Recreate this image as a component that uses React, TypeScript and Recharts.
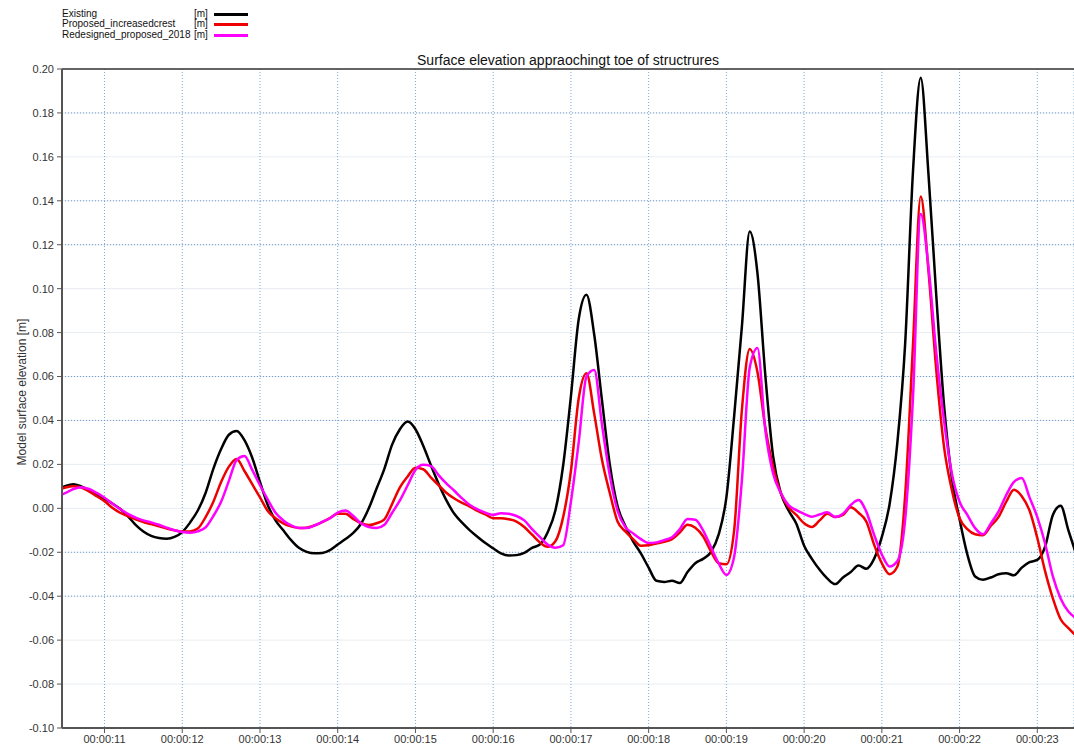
import { CartesianGrid, Line, LineChart, ReferenceLine, XAxis, YAxis } from 'recharts'

const FONT = '"Liberation Sans", Arial, sans-serif'

// sample times in seconds, 0.1 s apart
const time = [
  10.4, 10.5, 10.6, 10.7, 10.8, 10.9,
  11.0, 11.1, 11.2, 11.3, 11.4, 11.5, 11.6, 11.7, 11.8, 11.9,
  12.0, 12.1, 12.2, 12.3, 12.4, 12.5, 12.6, 12.7, 12.8, 12.9,
  13.0, 13.1, 13.2, 13.3, 13.4, 13.5, 13.6, 13.7, 13.8, 13.9,
  14.0, 14.1, 14.2, 14.3, 14.4, 14.5, 14.6, 14.7, 14.8, 14.9,
  15.0, 15.1, 15.2, 15.3, 15.4, 15.5, 15.6, 15.7, 15.8, 15.9,
  16.0, 16.1, 16.2, 16.3, 16.4, 16.5, 16.6, 16.7, 16.8, 16.9,
  17.0, 17.1, 17.2, 17.3, 17.4, 17.5, 17.6, 17.7, 17.8, 17.9,
  18.0, 18.1, 18.2, 18.3, 18.4, 18.5, 18.6, 18.7, 18.8, 18.9,
  19.0, 19.1, 19.2, 19.3, 19.4, 19.5, 19.6, 19.7, 19.8, 19.9,
  20.0, 20.1, 20.2, 20.3, 20.4, 20.5, 20.6, 20.7, 20.8, 20.9,
  21.0, 21.1, 21.2, 21.3, 21.4, 21.5, 21.6, 21.7, 21.8, 21.9,
  22.0, 22.1, 22.2, 22.3, 22.4, 22.5, 22.6, 22.7, 22.8, 22.9,
  23.0, 23.1, 23.2, 23.3, 23.4, 23.5,
]

const existing = [
  0.0085, 0.0102, 0.011, 0.01, 0.0083, 0.0064,
  0.0044, 0.0022, -0.0002, -0.0035, -0.0075, -0.0105, -0.0125, -0.0135, -0.0138, -0.013,
  -0.0108, -0.0065, -0.001, 0.007, 0.018, 0.027, 0.0335, 0.0352, 0.031, 0.023,
  0.012, 0.0015, -0.0055, -0.01, -0.0145, -0.018, -0.0198, -0.0205, -0.0203, -0.019,
  -0.0165, -0.014, -0.0112, -0.007, 0.0, 0.009, 0.018, 0.029, 0.036, 0.0395,
  0.036, 0.0285, 0.0195, 0.011, 0.0035, -0.0025, -0.0065, -0.01, -0.013, -0.0158,
  -0.0182, -0.0205, -0.0215, -0.0213, -0.0203, -0.018, -0.0165, -0.011, -0.001, 0.0195,
  0.051, 0.086, 0.0972, 0.079, 0.049, 0.02, 0.001, -0.008, -0.015, -0.0205,
  -0.027, -0.033, -0.0335, -0.033, -0.034, -0.029, -0.025, -0.023, -0.02, -0.012,
  0.005, 0.042, 0.083, 0.126, 0.107, 0.061, 0.024, 0.007, -0.001, -0.007,
  -0.017, -0.023, -0.028, -0.032, -0.0345, -0.0315, -0.029, -0.026, -0.0275, -0.023,
  -0.013, 0.002, 0.03, 0.075, 0.153, 0.196, 0.152, 0.097, 0.047, 0.014,
  -0.005, -0.021, -0.031, -0.0325, -0.0315, -0.03, -0.0295, -0.0305, -0.027, -0.0245,
  -0.0235, -0.0175, -0.003, 0.0012, -0.01, -0.021,
]

const proposedIncreasedCrest = [
  0.0085, 0.0095, 0.01, 0.0095, 0.0077, 0.0055,
  0.0032, 0.0003, -0.002, -0.0035, -0.005, -0.0062, -0.0072, -0.0082, -0.0092, -0.01,
  -0.0106, -0.0105, -0.0092, -0.004, 0.003, 0.012, 0.019, 0.0225, 0.017, 0.011,
  0.005, -0.0012, -0.0045, -0.0068, -0.0082, -0.009, -0.0088, -0.0078, -0.0063, -0.0045,
  -0.0025, -0.0025, -0.0048, -0.0068, -0.0076, -0.0068, -0.005, 0.002, 0.0095, 0.0145,
  0.0185, 0.0178, 0.014, 0.0105, 0.007, 0.0045, 0.0025, 0.0008, -0.0012, -0.0028,
  -0.0045, -0.0045, -0.005, -0.006, -0.0085, -0.012, -0.0155, -0.0175, -0.015, -0.004,
  0.017, 0.05, 0.0615, 0.043, 0.022, 0.007, -0.006, -0.0105, -0.014, -0.017,
  -0.0168, -0.016, -0.0152, -0.014, -0.011, -0.0075, -0.0088, -0.0127, -0.0195, -0.025,
  -0.0255, -0.01, 0.045, 0.0725, 0.062, 0.037, 0.019, 0.007, 0.0005, -0.003,
  -0.0068, -0.0085, -0.0055, -0.0025, -0.004, -0.003, 0.0005, -0.002, -0.006, -0.0165,
  -0.025, -0.03, -0.0265, 0.006, 0.074, 0.142, 0.108, 0.063, 0.028, 0.0085,
  -0.0045, -0.0095, -0.0118, -0.0122, -0.008, -0.004, 0.003, 0.0085, 0.0055, -0.001,
  -0.0135, -0.0286, -0.041, -0.0505, -0.0545, -0.058,
]

const redesignedProposed2018 = [
  0.0055, 0.007, 0.0088, 0.0096, 0.0088, 0.007,
  0.0048, 0.0022, -0.0003, -0.0025, -0.0042, -0.0055, -0.0064, -0.0075, -0.0088, -0.01,
  -0.0108, -0.0111, -0.0105, -0.0087, -0.0035, 0.003, 0.0125, 0.022, 0.0238, 0.0175,
  0.0105, 0.004, -0.002, -0.0055, -0.0078, -0.0089, -0.009, -0.0078, -0.0062, -0.0045,
  -0.002, -0.001, -0.0035, -0.0068, -0.0085, -0.009, -0.0075, -0.002, 0.0036, 0.0105,
  0.0175, 0.0198, 0.0192, 0.015, 0.0112, 0.008, 0.0045, 0.0015, -0.0005, -0.002,
  -0.003, -0.0022, -0.0025, -0.0035, -0.0055, -0.0095, -0.013, -0.0165, -0.018, -0.0168,
  0.003, 0.03, 0.06, 0.063, 0.038, 0.015, -0.001, -0.0085, -0.0114, -0.014,
  -0.0158, -0.0155, -0.0145, -0.0132, -0.0095, -0.0048, -0.0052, -0.01, -0.0175, -0.025,
  -0.0303, -0.022, 0.013, 0.064, 0.073, 0.036, 0.016, 0.007, 0.0015, -0.0008,
  -0.0025, -0.0038, -0.0028, -0.0018, -0.004, -0.0025, 0.0015, 0.0038, -0.0015, -0.012,
  -0.021, -0.0265, -0.024, -0.005, 0.05, 0.134, 0.11, 0.071, 0.04, 0.016,
  0.003, -0.003, -0.009, -0.0118, -0.007, -0.0015, 0.006, 0.012, 0.0138, 0.005,
  -0.004, -0.016, -0.031, -0.041, -0.047, -0.05,
]

const series = [
  { key: 'existing', name: 'Existing', color: '#000000' },
  { key: 'proposed', name: 'Proposed_increasedcrest', color: '#ee0000' },
  { key: 'redesigned', name: 'Redesigned_proposed_2018', color: '#ff00ff' },
]

const xTicks = [11, 12, 13, 14, 15, 16, 17, 18, 19, 20, 21, 22, 23]
const yTicks = [-0.1, -0.08, -0.06, -0.04, -0.02, 0, 0.02, 0.04, 0.06, 0.08, 0.1, 0.12, 0.14, 0.16, 0.18, 0.2]
const dottedRows = [0.18, 0.14, 0.12, 0.06, 0.04, -0.02, -0.04]

const X_DOMAIN: [number, number] = [10.453, 23.472]
const Y_DOMAIN: [number, number] = [-0.1, 0.2]

// minor ticks: 0.1 s along time, 0.004 m along elevation
const xMinor = Array.from({ length: 130 }, (_, i) => Math.round((10.5 + i * 0.1) * 10) / 10)
const yMinor = Array.from({ length: 76 }, (_, i) => Math.round((-0.1 + i * 0.004) * 1000) / 1000)

const data = time.map((t, i) => ({
  t,
  existing: existing[i],
  proposed: proposedIncreasedCrest[i],
  redesigned: redesignedProposed2018[i],
}))

const formatTime = (s: number) => `00:00:${String(s).padStart(2, '0')}`
const tickStyle = { fontSize: 11, fill: '#333', fontFamily: FONT }
const axisStroke = { stroke: '#555', strokeWidth: 2 }

export default function App() {
  return (
    <div
      style={{
        position: 'absolute',
        left: 0,
        top: 0,
        width: 1074,
        height: 747,
        overflow: 'hidden',
        background: '#fff',
        fontFamily: FONT,
      }}
    >
      <LineChart width={1074} height={747} data={data} margin={{ top: 69, right: 0, bottom: 0, left: 0 }}>
        <CartesianGrid vertical={false} stroke="#e8edf2" />
        <CartesianGrid horizontal={false} stroke="#7eaad4" strokeDasharray="1 2" />
        {dottedRows.map((v) => (
          <ReferenceLine key={v} y={v} stroke="#6e9ccb" strokeDasharray="1 2" />
        ))}
        <XAxis
          xAxisId="minor"
          type="number"
          dataKey="t"
          domain={X_DOMAIN}
          allowDataOverflow
          ticks={xMinor}
          interval={0}
          tick={false}
          tickSize={3}
          tickLine={{ stroke: '#555' }}
          axisLine={false}
          height={0}
        />
        <XAxis
          type="number"
          dataKey="t"
          domain={X_DOMAIN}
          allowDataOverflow
          ticks={xTicks}
          interval={0}
          tickFormatter={formatTime}
          tick={tickStyle}
          tickSize={5}
          tickMargin={2}
          tickLine={{ stroke: '#555' }}
          axisLine={axisStroke}
          height={19}
        />
        <YAxis
          yAxisId="minor"
          type="number"
          domain={Y_DOMAIN}
          ticks={yMinor}
          interval={0}
          tick={false}
          tickSize={3}
          tickLine={{ stroke: '#555' }}
          axisLine={false}
          width={0}
        />
        <YAxis
          type="number"
          domain={Y_DOMAIN}
          ticks={yTicks}
          interval={0}
          tickFormatter={(v: number) => v.toFixed(2)}
          tick={tickStyle}
          tickSize={5}
          tickMargin={3}
          tickLine={{ stroke: '#555' }}
          axisLine={axisStroke}
          width={62}
        />
        <ReferenceLine y={0.2} stroke="#333" strokeWidth={1.5} />
        {series.map((s) => (
          <Line
            key={s.key}
            type="monotone"
            dataKey={s.key}
            name={s.name}
            stroke={s.color}
            strokeWidth={2.5}
            dot={false}
            activeDot={false}
            isAnimationActive={false}
          />
        ))}
      </LineChart>

      {/* y axis title, rotated */}
      <div
        style={{
          position: 'absolute',
          left: 22 - 100,
          top: 392 - 7,
          width: 200,
          height: 14,
          lineHeight: '14px',
          textAlign: 'center',
          fontSize: 12,
          color: '#333',
          transform: 'rotate(-90deg)',
        }}
      >
        Model surface elevation [m]
      </div>

      <div
        style={{
          position: 'absolute',
          left: 62,
          width: 1012,
          top: 52,
          textAlign: 'center',
          fontSize: 14,
          lineHeight: '16px',
          color: '#111',
        }}
      >
        Surface elevation appraochingt toe of structrures
      </div>

      {series.map((s, i) => (
        <div
          key={s.key}
          style={{
            position: 'absolute',
            left: 0,
            top: 9 + i * 10.3,
            height: 10.3,
            width: 260,
            fontSize: 10,
            lineHeight: '10.3px',
            color: '#111',
          }}
        >
          <span style={{ position: 'absolute', left: 62 }}>{s.name}</span>
          <span style={{ position: 'absolute', left: 194 }}>[m]</span>
          <span style={{ position: 'absolute', left: 214, top: 4, width: 34, height: 3, background: s.color }} />
        </div>
      ))}
    </div>
  )
}
